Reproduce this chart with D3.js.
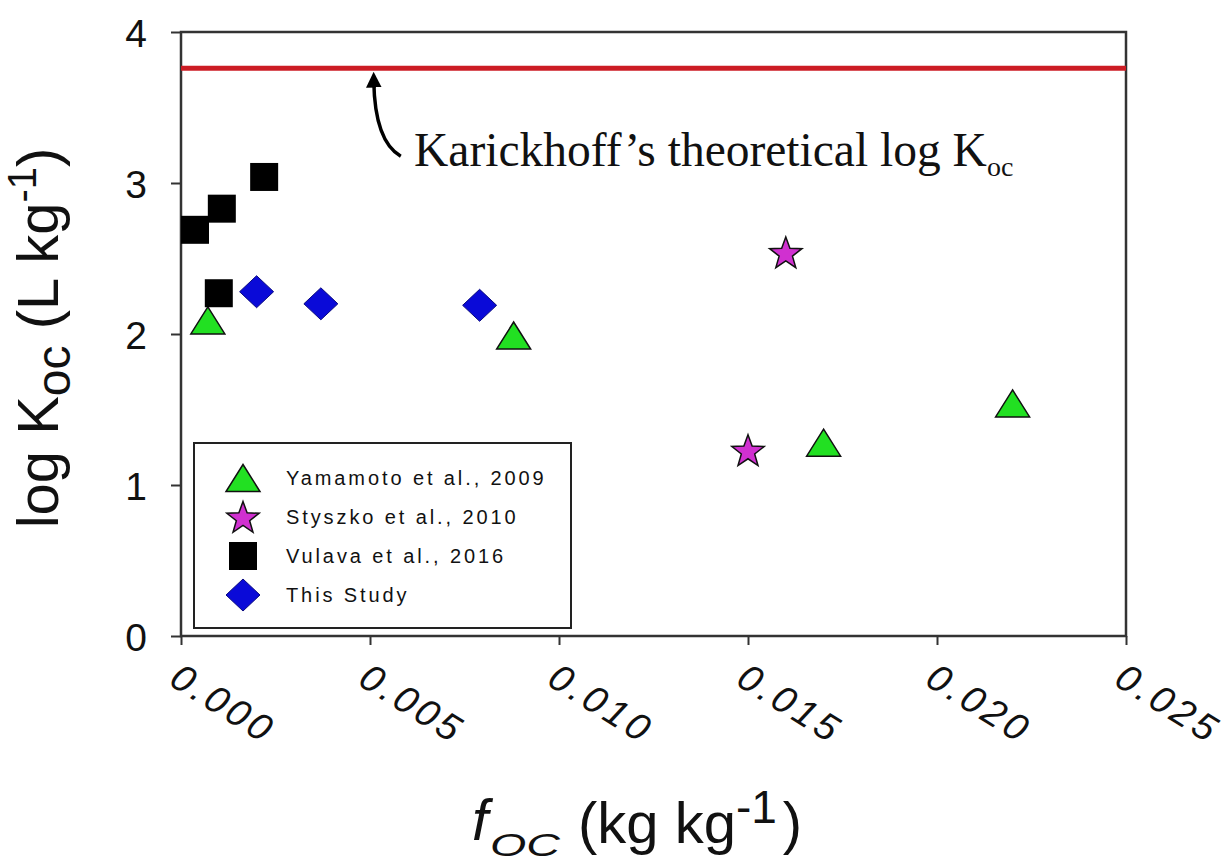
<!DOCTYPE html>
<html>
<head>
<meta charset="utf-8">
<script src="https://cdn.jsdelivr.net/npm/d3@7"></script>
<style>
  html, body { margin: 0; padding: 0; background: #fff; }
  svg { display: block; }
  text { font-family: "Liberation Sans", Arial, sans-serif; fill: #111; }
</style>
</head>
<body>
<svg id="chart" width="1229" height="864"></svg>
<script>
// Organic carbon fraction (kg/kg) vs. log Koc (L/kg) for each study
const yamamotoFoc = [0.00071, 0.0088, 0.0170, 0.0220];
const yamamotoKoc = [2.09, 1.99, 1.28, 1.54];
const styszkoFoc = [0.0160, 0.0150];
const styszkoKoc = [2.54, 1.23];
const vulavaFoc = [0.00037, 0.00108, 0.0022, 0.0010];
const vulavaKoc = [2.69, 2.83, 3.04, 2.27];
const studyFoc = [0.0020, 0.0037, 0.0079];
const studyKoc = [2.28, 2.20, 2.19];
const karickhoffKoc = 3.76;

const xTicks = [0, 0.005, 0.010, 0.015, 0.020, 0.025];
const xTickLabels = ["0.000", "0.005", "0.010", "0.015", "0.020", "0.025"];
const yTicks = [0, 1, 2, 3, 4];
const seriesNames = ["Yamamoto et al., 2009", "Styszko et al., 2010", "Vulava et al., 2016", "This Study"];

const svg = d3.select("#chart");
const plotLeft = 181, plotRight = 1126, plotTop = 32, plotBottom = 636;

const x = d3.scaleLinear().domain([0, 0.025]).range([plotLeft, plotRight]);
const y = d3.scaleLinear().domain([0, 4]).range([plotBottom, plotTop]);

// marker path builders (centered at 0,0)
const shapes = {
  triangle: () => { const w = 34, h = 27; return `M0,${-h/2}L${w/2},${h/2}L${-w/2},${h/2}Z`; },
  square: () => { const s = 28; return `M${-s/2},${-s/2}h${s}v${s}h${-s}Z`; },
  diamond: () => { const w = 34, h = 32; return `M0,${-h/2}L${w/2},0L0,${h/2}L${-w/2},0Z`; },
  star: () => {
    const ro = 17, ri = 7, pts = [];
    for (let i = 0; i < 10; i++) {
      const r = i % 2 === 0 ? ro : ri;
      const a = -Math.PI / 2 + i * Math.PI / 5;
      pts.push([r * Math.cos(a), r * Math.sin(a) + 1.5]);
    }
    return "M" + pts.map(p => p.join(",")).join("L") + "Z";
  }
};

const series = [
  { name: seriesNames[0], foc: yamamotoFoc, koc: yamamotoKoc, shape: "triangle", fill: "#22e022", stroke: "#111", sw: 1.5 },
  { name: seriesNames[1], foc: styszkoFoc, koc: styszkoKoc, shape: "star", fill: "#d030d0", stroke: "#111", sw: 1.5 },
  { name: seriesNames[2], foc: vulavaFoc, koc: vulavaKoc, shape: "square", fill: "#000", stroke: "#000", sw: 0 },
  { name: seriesNames[3], foc: studyFoc, koc: studyKoc, shape: "diamond", fill: "#0a0ad8", stroke: "#0a0a80", sw: 1 }
];

// frame
svg.append("rect")
  .attr("x", plotLeft).attr("y", plotTop)
  .attr("width", plotRight - plotLeft).attr("height", plotBottom - plotTop)
  .attr("fill", "none").attr("stroke", "#333").attr("stroke-width", 2.5);

// y axis
const yAxis = d3.axisLeft(y).tickValues(yTicks).tickSize(10).tickFormat(d3.format("d"));
const gy = svg.append("g").attr("transform", `translate(${plotLeft},0)`).call(yAxis);
gy.select(".domain").remove();
gy.selectAll(".tick line").attr("stroke", "#333").attr("stroke-width", 2);
gy.selectAll(".tick text")
  .attr("x", -34)
  .attr("dy", "0.36em")
  .style("font-family", "Liberation Sans, Arial, sans-serif")
  .style("font-size", "39px")
  .attr("fill", "#111");

// x axis
const xAxis = d3.axisBottom(x).tickValues(xTicks).tickSize(9).tickFormat((d, i) => xTickLabels[i]);
const gx = svg.append("g").attr("transform", `translate(0,${plotBottom})`).call(xAxis);
gx.select(".domain").remove();
gx.selectAll(".tick line").attr("stroke", "#333").attr("stroke-width", 2);
gx.selectAll(".tick text")
  .attr("x", 0).attr("y", 0).attr("dy", 0)
  .attr("text-anchor", "start")
  .attr("transform", "translate(-14,48) rotate(32)")
  .style("font-family", "Liberation Sans, Arial, sans-serif")
  .style("font-size", "38px")
  .style("font-style", "italic")
  .style("letter-spacing", "4px")
  .attr("fill", "#111");

// Karickhoff reference line
svg.append("line")
  .attr("x1", x(0)).attr("x2", x(0.025))
  .attr("y1", y(karickhoffKoc)).attr("y2", y(karickhoffKoc))
  .attr("stroke", "#cc1c24").attr("stroke-width", 5);

// annotation with curved arrow pointing at the line
const defs = svg.append("defs");
defs.append("marker")
  .attr("id", "arrowhead")
  .attr("viewBox", "0 0 10 10")
  .attr("refX", 4).attr("refY", 5)
  .attr("markerWidth", 4.5).attr("markerHeight", 4.5)
  .attr("orient", "auto")
  .append("path").attr("d", "M0,0L10,5L0,10Z").attr("fill", "#000");

const tipX = x(0.0051), tipY = y(karickhoffKoc) + 13;
svg.append("path")
  .attr("d", `M${tipX + 27},${tipY + 75} Q${tipX + 1},${tipY + 60} ${tipX},${tipY}`)
  .attr("fill", "none").attr("stroke", "#000").attr("stroke-width", 3.5)
  .attr("marker-end", "url(#arrowhead)");

const ann = svg.append("text")
  .attr("x", 414).attr("y", 166)
  .style("font-family", "Liberation Serif, Times New Roman, serif")
  .style("font-size", "47.5px")
  .attr("fill", "#000");
ann.append("tspan").text("Karickhoff\u2019s theoretical log K");
ann.append("tspan").attr("dy", 10).style("font-size", "28px").text("oc");

// data points
series.forEach(s => {
  svg.append("g").selectAll("path")
    .data(s.foc.map((f, i) => [f, s.koc[i]]))
    .join("path")
    .attr("d", shapes[s.shape]())
    .attr("transform", d => `translate(${x(d[0])},${y(d[1])})`)
    .attr("fill", s.fill)
    .attr("stroke", s.stroke)
    .attr("stroke-width", s.sw)
    .attr("stroke-linejoin", "miter");
});

// legend
const legend = svg.append("g");
legend.append("rect")
  .attr("x", 194).attr("y", 443).attr("width", 377).attr("height", 185)
  .attr("fill", "#fff").attr("stroke", "#222").attr("stroke-width", 2);
const rowY = d3.scalePoint().domain(seriesNames).range([478, 595]);
series.forEach(s => {
  legend.append("path")
    .attr("d", shapes[s.shape]())
    .attr("transform", `translate(243,${rowY(s.name)})`)
    .attr("fill", s.fill).attr("stroke", s.stroke).attr("stroke-width", s.sw);
  legend.append("text")
    .attr("x", 286).attr("y", rowY(s.name)).attr("dy", "0.36em")
    .style("font-size", "20px")
    .style("letter-spacing", "2.9px")
    .attr("fill", "#222")
    .text(s.name);
});

// y axis title
const yTitle = svg.append("text")
  .attr("transform", `translate(58,${(plotTop + plotBottom) / 2 + 4}) rotate(-90)`)
  .attr("text-anchor", "middle")
  .style("font-size", "58px")
  .attr("fill", "#000");
yTitle.append("tspan").text("log K");
yTitle.append("tspan").attr("dy", 12).style("font-size", "48px").text("oc");
yTitle.append("tspan").attr("dy", -12).text(" (L kg");
yTitle.append("tspan").attr("dy", -22).style("font-size", "40px").text("-1");
yTitle.append("tspan").attr("dy", 22).text(")");

// x axis title
const xTitle = svg.append("g");
xTitle.append("text")
  .attr("x", 472).attr("y", 840)
  .style("font-size", "58px").style("font-style", "italic")
  .attr("fill", "#000").text("f");
xTitle.append("text")
  .attr("x", 490).attr("y", 856)
  .attr("textLength", 70).attr("lengthAdjust", "spacingAndGlyphs")
  .style("font-size", "31px").style("font-style", "italic")
  .attr("fill", "#000").text("OC");
const xUnits = xTitle.append("text")
  .attr("x", 578).attr("y", 843)
  .style("font-size", "58px")
  .attr("fill", "#000");
xUnits.append("tspan").text("(kg kg");
xUnits.append("tspan").attr("dy", -20).style("font-size", "46px").text("-1");
xUnits.append("tspan").attr("dy", 20).attr("dx", 6).text(")");
</script>
</body>
</html>
